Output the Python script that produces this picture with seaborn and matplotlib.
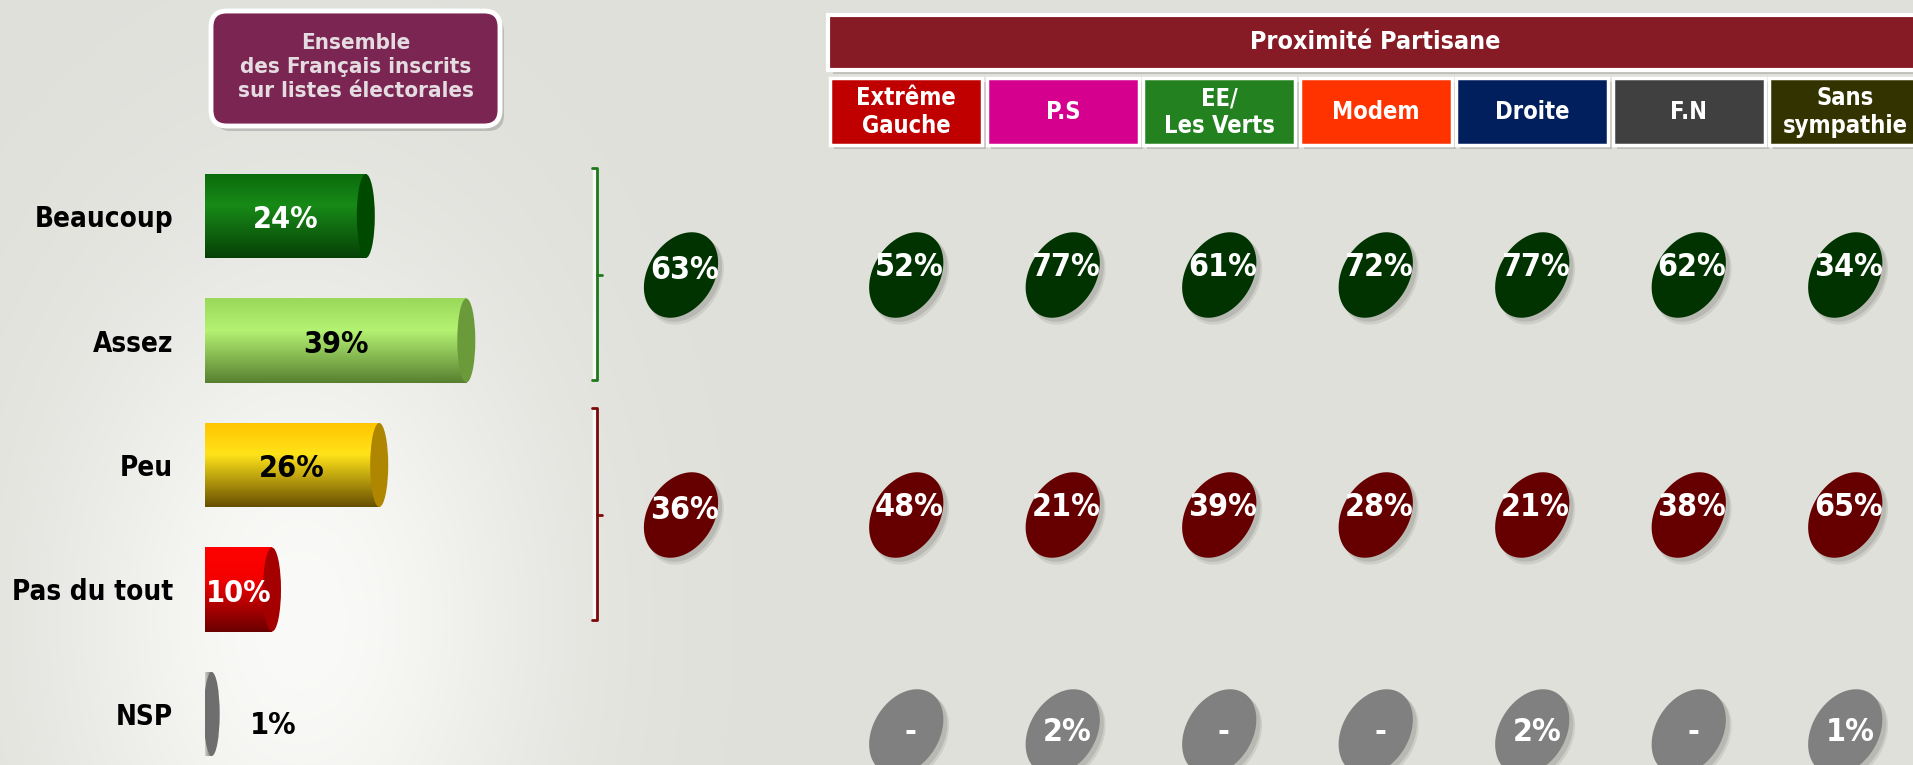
import numpy as np
import pandas as pd
import matplotlib
matplotlib.use("Agg")
import matplotlib.pyplot as plt
import seaborn as sns
from matplotlib.patches import FancyBboxPatch, Ellipse
from matplotlib.path import Path
from matplotlib.lines import Line2D
from matplotlib import transforms as mtransforms
from matplotlib.colors import LinearSegmentedColormap, to_rgb

# ---------------- data ----------------
categories = ["Beaucoup", "Assez", "Peu", "Pas du tout", "NSP"]
ensemble = [24, 39, 26, 10, 1]
total_groups = ["Total positif", "Total négatif"]
totals = [63, 36]
parties = ["Extrême\nGauche", "P.S", "EE/\nLes Verts", "Modem", "Droite", "F.N", "Sans\nsympathie"]
positif = [52, 77, 61, 72, 77, 62, 34]
negatif = [48, 21, 39, 28, 21, 38, 65]
nsp_party = [None, 2, None, None, 2, None, 1]
header_title = "Proximité Partisane"
box_title = "Ensemble\ndes Français inscrits\nsur listes électorales"

# ---------------- styles ----------------
sns.set_style("white")
plt.rcParams["font.family"] = ["DejaVu Sans"]
plt.rcParams["font.stretch"] = "condensed"

BG = "#DFE0DA"
party_colors = ["#C00000", "#D6008F", "#23821F", "#FF3300", "#001F5C", "#404040", "#333300"]
bar_stops = [
    [(0, "#0B6A0B"), (0.38, "#178A17"), (1, "#064006")],
    [(0, "#9AD85A"), (0.38, "#B4F272"), (1, "#587F30")],
    [(0, "#FFC400"), (0.38, "#FFE31A"), (1, "#664E00")],
    [(0, "#FF0000"), (0.38, "#F40000"), (1, "#6A0000")],
    [(0, "#D0D0D0"), (0.5, "#A0A0A0"), (1, "#727272")],
]
cap_colors = ["#004A00", "#6B9A3B", "#AE8600", "#A50000", "#6E6E6E"]
label_colors = ["white", "black", "black", "white", "black"]

W, H = 1913, 765
fig = plt.figure(figsize=(W / 100, H / 100), dpi=100)
fig.patch.set_facecolor(BG)
T_px = mtransforms.Affine2D().scale(1 / W, -1 / H).translate(0, 1) + fig.transFigure


def rect(l, t, r, b):
    return [l / W, 1 - b / H, (r - l) / W, (b - t) / H]


# ---------------- background glow ----------------
ax_bg = fig.add_axes([0, 0, 1, 1], zorder=-10)
yy, xx = np.mgrid[0:H, 0:W]
g = np.exp(-(((xx - 300) / 240.0) ** 2 + ((yy - 620) / 360.0) ** 2))
base = np.array(to_rgb(BG))
hi = np.array(to_rgb("#FAFAF8"))
img = base + (hi - base) * g[..., None]
ax_bg.imshow(img, extent=[0, W, H, 0], aspect="auto")
ax_bg.set_axis_off()

# ---------------- left title box ----------------
shadow = FancyBboxPatch((215, 16), 289, 115, boxstyle="round,pad=0,rounding_size=16",
                        transform=T_px, facecolor="#8E8E8A", edgecolor="none", alpha=0.45)
fig.patches.append(shadow)
box = FancyBboxPatch((211, 11), 289, 115, boxstyle="round,pad=0,rounding_size=16",
                     transform=T_px, facecolor="#7B2552", edgecolor="white", linewidth=3.5)
fig.patches.append(box)
fig.text(356, 67, box_title, transform=T_px, ha="center", va="center",
         fontsize=16, fontweight="bold", color="#E4DCE0", linespacing=1.22)

# ---------------- bars (Ensemble) ----------------
PX_PER = 6.7
XMAX = 60
X0 = 205
ax_bar = fig.add_axes(rect(X0, 153.75, X0 + XMAX * PX_PER, 776.25))
ax_bar.set_facecolor("none")
df_bar = pd.DataFrame({"cat": categories, "val": ensemble})
sns.barplot(data=df_bar, x="val", y="cat", hue="cat", palette=[s[1][1] for s in bar_stops],
            orient="h", width=0.675, legend=False, ax=ax_bar, saturation=1)

for i, patch in enumerate(ax_bar.patches):
    x0, y0 = patch.get_x(), patch.get_y()
    w, h = patch.get_width(), patch.get_height()
    patch.set_edgecolor("none")
    cmap = LinearSegmentedColormap.from_list(f"g{i}", bar_stops[i])
    if i == 4:
        grad = np.linspace(0, 1, 64)[None, :]
    else:
        grad = np.linspace(0, 1, 256)[:, None]
    im = ax_bar.imshow(grad, cmap=cmap, extent=[x0, x0 + w, y0 + h, y0], aspect="auto",
                       origin="upper", zorder=2, interpolation="bilinear")
    im.set_clip_path(patch)
    cap_w = (16 if i == 4 else 18) / PX_PER
    cap = Ellipse((x0 + w, y0 + h / 2), width=cap_w, height=h,
                  facecolor=cap_colors[i], edgecolor="none", zorder=3)
    ax_bar.add_patch(cap)

for i, v in enumerate(ensemble):
    if v >= 5:
        ax_bar.text(v / 2, i + 0.03, f"{v}%", ha="center", va="center", fontsize=22,
                    fontweight="bold", color=label_colors[i], zorder=5)
    else:
        ax_bar.annotate(f"{v}%", xy=(v, i), xytext=(44, -8), textcoords="offset points",
                        ha="center", va="center", fontsize=22, fontweight="bold",
                        color=label_colors[i], zorder=5)

ax_bar.set_xlim(0, XMAX)
ax_bar.set_ylim(4.5, -0.5)
ax_bar.set_xticks([])
ax_bar.set_yticks(range(len(categories)))
ax_bar.set_yticklabels(categories)
ax_bar.tick_params(axis="y", length=0, pad=23, labelsize=20)
for lbl in ax_bar.get_yticklabels():
    lbl.set_fontweight("bold")
    lbl.set_color("black")
ax_bar.set_xlabel("")
ax_bar.set_ylabel("")
sns.despine(ax=ax_bar, left=True, bottom=True)

# ---------------- brackets ----------------
for (top, mid, bot, col) in [(168, 275, 380, "#1C7A1C"), (408, 515, 620, "#7A0A0A")]:
    fig.add_artist(Line2D([594, 594], [top + 2, bot - 2], transform=T_px, color="white",
                          lw=2.5, alpha=0.8))
    fig.add_artist(Line2D([592, 597, 597, 592], [top, top, bot, bot], transform=T_px,
                          color=col, lw=2))
    fig.add_artist(Line2D([597, 602], [mid, mid], transform=T_px, color=col, lw=2))

# ---------------- oval marker ----------------
t = np.linspace(0, 2 * np.pi, 120)
a_ax, b_ax = 46, 33
ang = np.deg2rad(58)
ex = a_ax * np.cos(t) * np.cos(ang) - b_ax * np.sin(t) * np.sin(ang)
ey = a_ax * np.cos(t) * np.sin(ang) + b_ax * np.sin(t) * np.cos(ang)
verts = np.column_stack([ex, ey])
oval = Path(verts, closed=True)
ext = np.abs(verts).max()
S = (2 * ext * 72 / 100) ** 2


def draw_ovals(ax, x, y, hue, palette):
    # soft shadow
    for off, alpha, scale in [((5, -6), 0.18, 1.04), ((4, -4), 0.25, 1.0)]:
        sns.scatterplot(x=x, y=y, color="#7E7E78", marker=oval, s=S * scale, linewidth=0,
                        edgecolor="none", alpha=alpha, ax=ax, legend=False, zorder=2)
        coll = ax.collections[-1]
        coll.set_offset_transform(mtransforms.offset_copy(ax.transData, fig=fig,
                                                          x=off[0], y=off[1], units="dots"))
    sns.scatterplot(x=x, y=y, hue=hue, palette=palette, marker=oval, s=S, linewidth=0,
                    edgecolor="none", ax=ax, legend=False, zorder=3)


OVAL_FS = 23

# ---------------- total column ----------------
ax_tot = fig.add_axes(rect(681 - 60, 155, 681 + 60, 635))
ax_tot.set_facecolor("none")
draw_ovals(ax_tot, ["Ensemble"] * 2, total_groups, total_groups,
           {"Total positif": "#003300", "Total négatif": "#660000"})
for j, v in enumerate(totals):
    ax_tot.text(0.03, j - 0.02, f"{v}%", ha="center", va="center", fontsize=OVAL_FS,
                fontweight="bold", color="white", zorder=5)
ax_tot.set_xlim(-0.5, 0.5)
ax_tot.set_ylim(1.5, -0.5)
ax_tot.set_axis_off()

# ---------------- party columns ----------------
XR = 828 + 7 * 156.5
ax_par = fig.add_axes(rect(828, 155, XR, 635))
ax_par.set_facecolor("none")
df_par = pd.DataFrame({
    "party": parties * 2,
    "groupe": ["Total positif"] * len(parties) + ["Total négatif"] * len(parties),
    "val": positif + negatif,
})
draw_ovals(ax_par, df_par["party"], df_par["groupe"], df_par["groupe"],
           {"Total positif": "#003300", "Total négatif": "#660000"})
for k in range(len(parties)):
    for j, vals in enumerate([positif, negatif]):
        ax_par.text(k + 0.02, j - 0.03, f"{vals[k]}%", ha="center", va="center",
                    fontsize=OVAL_FS, fontweight="bold", color="white", zorder=5)
ax_par.set_xlim(-0.5, 6.5)
ax_par.set_ylim(1.5, -0.5)
ax_par.set_axis_off()

ax_nsp = fig.add_axes(rect(828, 732 - 60, XR, 732 + 60))
ax_nsp.set_facecolor("none")
draw_ovals(ax_nsp, parties, ["NSP"] * len(parties), ["NSP"] * len(parties), {"NSP": "#808080"})
for k, v in enumerate(nsp_party):
    ax_nsp.text(k + 0.03, 0.0, "-" if v is None else f"{v}%", ha="center", va="center",
                fontsize=OVAL_FS, fontweight="bold", color="white", zorder=5)
ax_nsp.set_xlim(-0.5, 6.5)
ax_nsp.set_ylim(0.5, -0.5)
ax_nsp.set_axis_off()

# ---------------- headers ----------------
bt = mtransforms.blended_transform_factory(ax_par.transData, T_px)
hdr_sh = FancyBboxPatch((-0.5 + 0.03, 19), 7.2, 55, boxstyle="square,pad=0", transform=bt,
                        facecolor="#8E8E8A", edgecolor="none", alpha=0.4, clip_on=False)
ax_par.add_patch(hdr_sh)
hdr = FancyBboxPatch((-0.5, 15), 7.2, 55, boxstyle="square,pad=0", transform=bt,
                     facecolor="#861A25", edgecolor="white", linewidth=3, clip_on=False)
ax_par.add_patch(hdr)
ax_par.text(3.0, 42, header_title, transform=bt, ha="center", va="center", fontsize=18,
            fontweight="bold", color="white", clip_on=False)
for k, (name, col) in enumerate(zip(parties, party_colors)):
    sh = FancyBboxPatch((k - 0.485 + 0.025, 82), 0.97, 67, boxstyle="square,pad=0",
                        transform=bt, facecolor="#8E8E8A", edgecolor="none", alpha=0.4,
                        clip_on=False)
    ax_par.add_patch(sh)
    bx = FancyBboxPatch((k - 0.485, 78), 0.97, 67, boxstyle="square,pad=0", transform=bt,
                        facecolor=col, edgecolor="white", linewidth=2.5, clip_on=False)
    ax_par.add_patch(bx)
    ax_par.text(k, 112, name, transform=bt, ha="center", va="center", fontsize=17,
                fontweight="bold", color="white", linespacing=1.2, clip_on=False)

fig.savefig("out.png", dpi=100, facecolor=BG)
